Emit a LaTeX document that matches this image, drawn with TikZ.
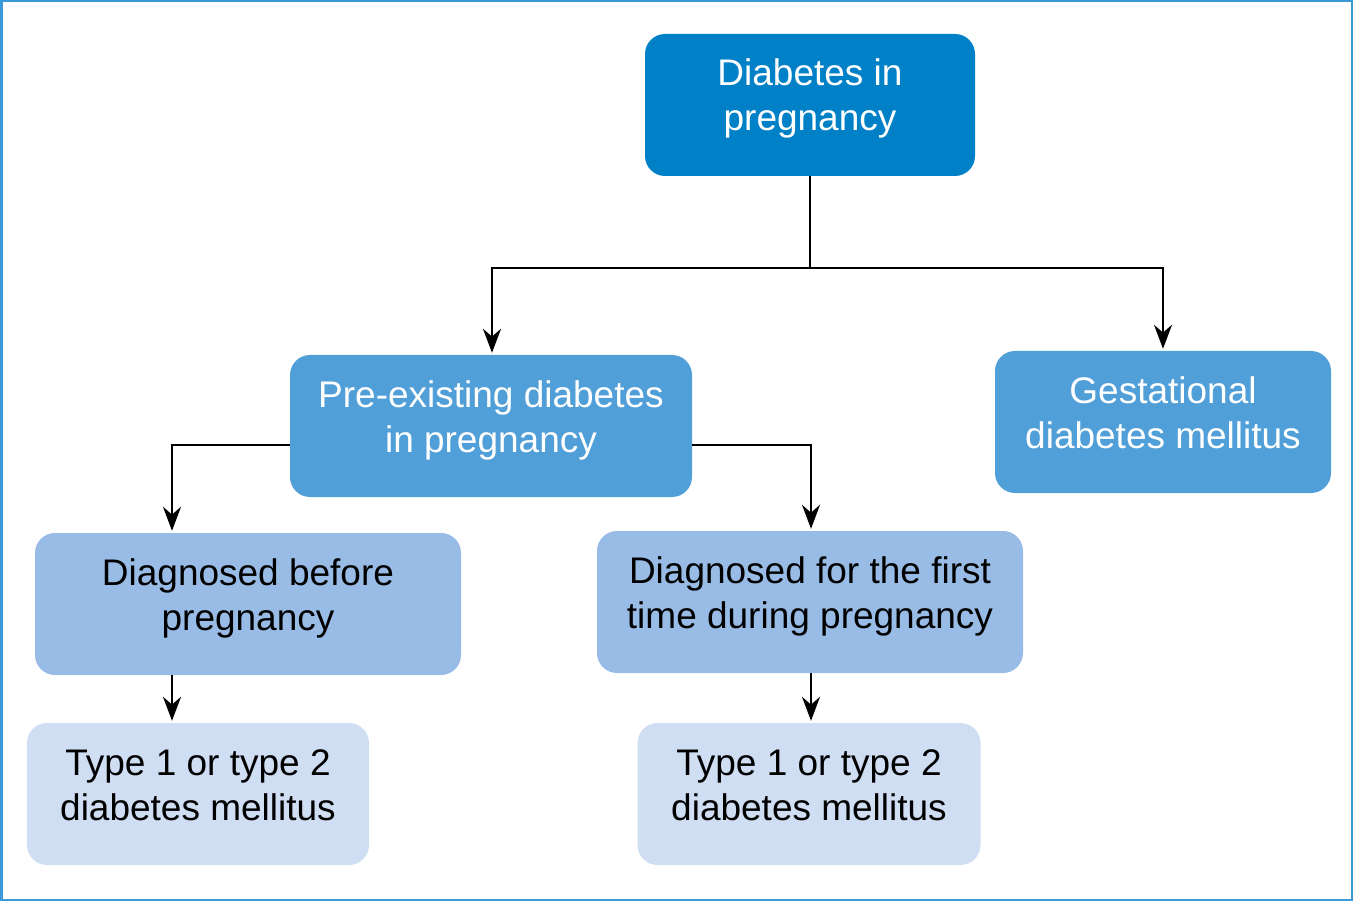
\documentclass[tikz,border=0pt]{standalone}
\usepackage{fontspec}
\setmainfont{Liberation Sans}
\usetikzlibrary{arrows.meta}
\definecolor{frame}{HTML}{3A9AD9}
\definecolor{deep}{HTML}{0080C6}
\definecolor{mid}{HTML}{519FD8}
\definecolor{soft}{HTML}{98BCE6}
\definecolor{pale}{HTML}{CFDEF3}

\begin{document}
\begin{tikzpicture}[x=1pt,y=-1pt,
    box/.style={rounded corners=20pt,minimum height=142pt,inner sep=0pt,align=center,
      text height=60pt,text depth=8pt,font=\fontsize{37}{45}\selectfont},
    link/.style={line width=2pt,draw=black},
    arr/.style={link,-{Stealth[length=24pt,width=18pt]},shorten >=2pt}]
  \useasboundingbox (0,0) rectangle (1353,901);
  \draw[frame,line width=2.5pt] (1.25,1.25) rectangle (1351.75,899.75);

  % boxes: centre / size / colour
  \node[box,fill=deep,text=white,minimum width=330pt] (top) at (810,105) {Diabetes in\\pregnancy};
  \node[box,fill=mid,text=white,minimum width=402pt] (pre) at (491,426) {Pre-existing diabetes\\in pregnancy};
  \node[box,fill=mid,text=white,minimum width=336pt] (gdm) at (1163,422) {Gestational\\diabetes mellitus};
  \node[box,fill=soft,minimum width=426pt] (before) at (248,604) {Diagnosed before\\pregnancy};
  \node[box,fill=soft,minimum width=426pt] (first) at (810,602) {Diagnosed for the first\\time during pregnancy};
  \node[box,fill=pale,minimum width=342pt] (typeL) at (198,794) {Type 1 or type 2\\diabetes mellitus};
  \node[box,fill=pale,minimum width=343pt] (typeR) at (809,794) {Type 1 or type 2\\diabetes mellitus};

  % connectors
  \coordinate (split) at (810,268);
  \draw[link] (top.south) -- (split);
  \draw[arr] (split) -| ([xshift=1pt]pre.north);
  \draw[arr] (split) -| (gdm.north);
  \draw[arr] ([yshift=-19pt]pre.west) -| ([xshift=-76pt]before.north);
  \draw[arr] ([yshift=-19pt]pre.east) -| ([xshift=1pt]first.north);
  \draw[arr] ([xshift=-76pt]before.south) -- ([xshift=-76pt]before.south |- typeL.north);
  \draw[arr] ([xshift=1pt]first.south) -- ([xshift=1pt]first.south |- typeR.north);
\end{tikzpicture}
\end{document}
